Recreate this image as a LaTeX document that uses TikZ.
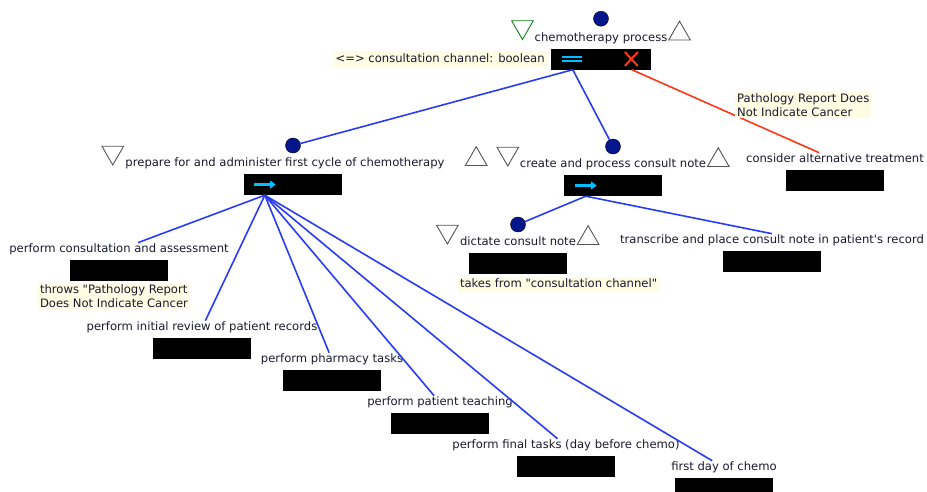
\documentclass[tikz,border=0pt]{standalone}
\usepackage{fontspec}
\setmainfont{DejaVu Sans}
\usetikzlibrary{positioning,shapes.geometric,arrows.meta}
\definecolor{dotblue}{RGB}{5,22,140}
\definecolor{edgeblue}{RGB}{40,60,245}
\definecolor{edgered}{RGB}{255,55,25}
\definecolor{iconcyan}{RGB}{0,190,255}
\definecolor{notebg}{RGB}{255,252,228}
\definecolor{trigray}{RGB}{85,85,85}
\definecolor{trigreen}{RGB}{20,125,30}
\definecolor{labeltext}{RGB}{25,25,45}
\tikzset{
  task box/.style={fill=black,minimum width=98pt,minimum height=21pt,inner sep=0pt},
  task label/.style={text=labeltext,inner xsep=0.5pt,inner ysep=1pt,text height=9pt,text depth=2.7pt},
  task dot/.style={circle,draw=black,fill=dotblue,minimum size=15pt,inner sep=0pt,line width=0.4pt},
  down tri/.style={regular polygon,regular polygon sides=3,shape border rotate=180,draw=#1,fill=white,minimum size=25pt,inner sep=0pt,line width=0.9pt},
  up tri/.style={regular polygon,regular polygon sides=3,draw=#1,fill=white,minimum size=25pt,inner sep=0pt,line width=0.9pt},
  note/.style={fill=notebg,text=labeltext,inner xsep=2pt,inner ysep=1.5pt,align=left},
  note line/.style={note,text height=9pt,text depth=2.7pt},
  sub line/.style={edgeblue,line width=1.6pt},
  fail line/.style={edgered,line width=1.6pt},
  seq icon/.style={iconcyan,line width=2.6pt,-{Triangle[length=6pt,width=8pt]}}
}
\begin{document}
\begin{tikzpicture}[x=1pt,y=-1pt,font=\fontsize{11.6}{14}\selectfont]
\useasboundingbox (0,0) rectangle (927,491);

% root task
\node[task box,minimum width=100pt] (root) at (601,59) {};
\node[task label,above=3pt of root] (root-lab) {chemotherapy process};
\node[task dot,anchor=south,yshift=4.8pt] (root-dot) at (root-lab.north -| root) {};
\node[down tri=trigreen,anchor=corner 1,xshift=-11.5pt,yshift=1pt] (root-pre) at (root-lab.base west) {};
\node[up tri=trigray,anchor=south,xshift=11.5pt,yshift=1pt] (root-post) at (root-lab.base east) {};
\draw[iconcyan,line width=2pt] ([xshift=11pt,yshift=2.5pt]root.west) -- ++(20pt,0pt)
  ([xshift=11pt,yshift=-2pt]root.west) -- ++(20pt,0pt);
\draw[edgered,line width=2pt] ([xshift=74pt,yshift=7pt]root.west) -- ++(13pt,-14pt)
  ([xshift=74pt,yshift=-7pt]root.west) -- ++(13pt,14pt);
\coordinate (root-out) at ([xshift=22pt]root.south west);
\coordinate (root-fail) at ([xshift=81pt]root.south west);

% second level
\node[task box] (prep) at (293,184.5) {};
\node[task label,above=3pt of prep,xshift=-8pt] (prep-lab) {prepare for and administer first cycle of chemotherapy};
\node[task dot,anchor=south,yshift=3.5pt] (prep-dot) at (prep-lab.north -| prep) {};
\node[down tri=trigray,anchor=corner 1,xshift=-12pt,yshift=1pt] (prep-pre) at (prep-lab.base west) {};
\node[up tri=trigray,anchor=south,xshift=31pt,yshift=1pt] (prep-post) at (prep-lab.base east) {};
\draw[seq icon] ([xshift=10pt]prep.west) -- ([xshift=32pt]prep.west);
\coordinate (prep-out) at ([xshift=21pt]prep.south west);

\node[task box] (consult) at (613,185.5) {};
\node[task label,above=3pt of consult] (consult-lab) {create and process consult note};
\node[task dot,anchor=south,yshift=3.5pt] (consult-dot) at (consult-lab.north -| consult) {};
\node[down tri=trigray,anchor=corner 1,xshift=-11.5pt,yshift=1pt] (consult-pre) at (consult-lab.base west) {};
\node[up tri=trigray,anchor=south,xshift=11.5pt,yshift=1pt] (consult-post) at (consult-lab.base east) {};
\draw[seq icon] ([xshift=11pt]consult.west) -- ([xshift=33pt]consult.west);
\coordinate (consult-out) at ([xshift=22pt]consult.south west);

\node[task box] (alt) at (835,180.5) {};
\node[task label,above=3pt of alt] (alt-lab) {consider alternative treatment};

\draw[sub line] (root-out) -- (prep-dot);
\draw[sub line] (root-out) -- (consult-dot);
\draw[fail line] (root-fail) -- (alt-lab);

% children of consult note
\node[task box] (dictate) at (518,263.5) {};
\node[task label,above=3pt of dictate] (dictate-lab) {dictate consult note};
\node[task dot,anchor=south,yshift=3.5pt] (dictate-dot) at (dictate-lab.north -| dictate) {};
\node[down tri=trigray,anchor=corner 1,xshift=-12pt,yshift=1pt] (dictate-pre) at (dictate-lab.base west) {};
\node[up tri=trigray,anchor=south,xshift=11.5pt,yshift=1pt] (dictate-post) at (dictate-lab.base east) {};

\node[task box] (transcribe) at (772,261.5) {};
\node[task label,above=3pt of transcribe] (transcribe-lab) {transcribe and place consult note in patient\textquotesingle s record};

\draw[sub line] (consult-out) -- (dictate-dot);
\draw[sub line] (consult-out) -- (transcribe-lab.north);

% children of first cycle
\foreach \n/\x/\y/\t in {
  assess/119/270.5/{perform consultation and assessment},
  review/202/348.5/{perform initial review of patient records},
  pharmacy/332/380.5/{perform pharmacy tasks},
  teaching/440/423.5/{perform patient teaching},
  final/566/466.5/{perform final tasks (day before chemo)},
  firstday/724/488.5/{first day of chemo}}
{
  \node[task box] (\n) at (\x,\y) {};
  \node[task label,above=3pt of \n] (\n-lab) {\t};
  \draw[sub line] (prep-out) -- (\n-lab);
}

% notes
\node[note line,inner ysep=2.5pt,anchor=east] (channel-note) at ([xshift=-4pt]root.west) {<=> consultation channel: boolean};
\node[note,anchor=north west] (fail-note) at (735,92) {Pathology Report Does\\Not Indicate Cancer};
\node[note,anchor=north west] (throws-note) at ([xshift=-32pt,yshift=-2pt]assess.south west) {throws \textquotedbl Pathology Report\\Does Not Indicate Cancer};
\node[note line,anchor=north west] (takes-note) at ([xshift=-11pt,yshift=-3pt]dictate.south west) {takes from \textquotedbl consultation channel\textquotedbl};
\end{tikzpicture}
\end{document}
